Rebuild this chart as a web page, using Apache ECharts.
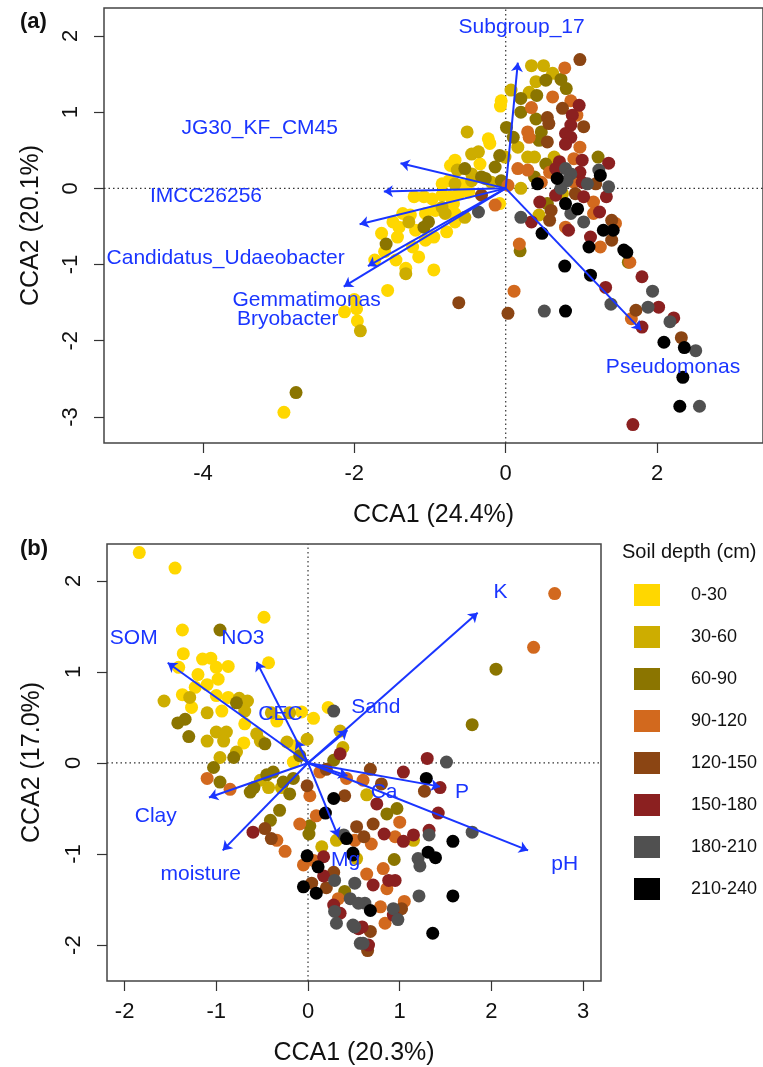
<!DOCTYPE html>
<html>
<head>
<meta charset="utf-8">
<script src="https://cdn.jsdelivr.net/npm/echarts@6/dist/echarts.min.js"></script>
<style>
  html, body { margin: 0; padding: 0; background: #fff; }
  #chart { width: 763px; height: 1067px; }
</style>
</head>
<body>
<div id="chart"></div>
<script>
// depth classes and their colours
var depthNames = ['0-30', '30-60', '60-90', '90-120', '120-150', '150-180', '180-210', '210-240'];
var depthColors = ['#FFD700', '#CDAD00', '#8B7500', '#D2691E', '#8B4513', '#8B2020', '#505050', '#000000'];

// panel (a) sample scores, one array per depth class
var a0_30 = [[-0.06,1.15],[-0.07,1.08],[-0.23,0.65],[-0.21,0.59],[-0.08,-0.20],[-0.34,0.32],[-0.73,0.30],[-0.67,0.37],[-0.75,0.10],[-0.84,0.06],[-0.58,0.04],[-1.21,-0.11],[-1.08,-0.11],[-0.97,-0.14],[-0.84,-0.09],[-0.73,-0.11],[-0.62,-0.07],[-0.49,-0.05],[-1.36,-0.33],[-1.26,-0.35],[-1.49,-0.44],[-1.41,-0.51],[-1.06,-0.33],[-1.19,-0.55],[-0.93,-0.29],[-0.67,-0.33],[-1.06,-0.68],[-1.23,-0.77],[-1.15,-0.90],[-1.43,-0.64],[-1.64,-0.59],[-1.60,-0.83],[-1.45,-0.94],[-1.73,-0.94],[-1.32,-1.05],[-0.95,-1.07],[-1.56,-1.34],[-0.95,-0.64],[-0.78,-0.57],[-0.67,-0.44],[-0.69,-0.20],[-2.00,-1.46],[-1.97,-1.58],[-2.13,-1.62],[-1.96,-1.74],[-2.93,-2.94]];
var a30_60 = [[0.34,1.61],[0.50,1.61],[0.62,1.51],[0.40,1.40],[0.07,1.29],[0.31,1.26],[0.16,0.54],[-0.01,0.41],[0.29,0.41],[0.38,0.41],[0.64,0.41],[0.20,0.00],[0.75,-0.07],[0.44,-0.35],[-0.19,0.08],[-0.51,0.74],[-0.45,0.45],[-0.36,0.48],[-0.64,0.24],[-0.45,0.19],[-0.67,0.06],[-0.45,0.10],[-1.28,-0.44],[-0.84,-0.25],[-0.80,-0.33],[-1.32,-1.12],[-0.54,-0.38],[-1.92,-1.87]];
var a60_90 = [[0.73,1.43],[0.53,1.42],[0.80,1.31],[0.20,1.18],[0.41,1.22],[0.20,1.00],[0.40,0.91],[0.01,0.80],[0.47,0.74],[0.10,0.67],[0.44,0.63],[-0.27,0.13],[-0.14,0.28],[-0.08,0.43],[0.53,0.32],[1.22,0.41],[0.38,0.15],[0.55,-0.20],[0.19,-0.82],[-0.06,0.10],[-0.54,0.26],[-0.32,0.15],[-1.02,-0.44],[-1.08,-0.51],[-1.58,-0.73],[-2.77,-2.68],[1.62,-0.97]];
var a90_120 = [[0.78,1.58],[0.62,1.20],[0.86,1.15],[0.94,0.96],[0.34,1.06],[0.29,0.74],[0.31,0.67],[0.98,0.54],[0.90,0.39],[0.16,0.26],[0.29,0.24],[0.58,0.21],[0.47,0.08],[0.90,0.08],[1.16,-0.18],[1.16,-0.33],[0.79,-0.51],[1.45,-0.46],[1.25,-0.77],[-0.14,-0.22],[0.18,-0.73],[0.03,0.04],[0.11,-1.35],[1.64,-0.97],[1.66,-1.71]];
var a120_150 = [[0.98,1.69],[0.75,1.05],[0.55,0.93],[1.03,0.81],[0.57,0.85],[0.55,0.61],[1.19,0.06],[0.92,-0.07],[0.60,-0.29],[1.40,-0.42],[0.58,-0.42],[1.40,-0.68],[-0.32,-0.09],[-0.62,-1.50],[0.03,-1.64],[1.72,-1.60],[2.32,-1.96]];
var a150_180 = [[0.97,1.09],[0.88,0.96],[0.86,0.83],[0.79,0.72],[0.86,0.67],[0.79,0.58],[0.71,0.35],[1.01,0.37],[1.36,0.33],[0.66,0.26],[0.98,0.21],[1.01,0.08],[0.66,-0.09],[1.03,-0.11],[1.33,-0.11],[0.45,-0.18],[1.24,-0.31],[0.34,-0.44],[0.83,-0.55],[1.12,-0.64],[1.80,-1.16],[1.32,-1.30],[2.02,-1.56],[2.22,-1.70],[1.80,-1.82],[1.68,-3.10]];
var a180_210 = [[0.79,0.26],[0.86,0.19],[0.81,0.10],[1.08,0.06],[1.36,0.02],[1.23,0.24],[0.73,0.00],[0.86,-0.33],[1.03,-0.44],[0.20,-0.38],[-0.36,-0.31],[0.51,-1.61],[1.39,-1.52],[1.94,-1.35],[1.88,-1.56],[2.17,-1.75],[2.51,-2.13],[2.56,-2.86]];
var a210_240 = [[0.68,0.13],[1.25,0.17],[0.42,0.06],[0.79,-0.20],[0.95,-0.27],[0.48,-0.59],[1.29,-0.55],[1.42,-0.55],[1.10,-0.77],[1.56,-0.81],[1.60,-0.84],[0.79,-1.61],[0.78,-1.02],[1.12,-1.14],[2.09,-2.02],[2.36,-2.09],[2.34,-2.48],[2.30,-2.86]];

// panel (b) sample scores
var b0_30 = [[-1.84,2.31],[-1.45,2.14],[-0.48,1.60],[-1.37,1.46],[-1.36,1.20],[-0.43,1.10],[-1.41,1.05],[-1.15,1.14],[-1.06,1.15],[-1.00,1.05],[-0.87,1.06],[-1.20,0.97],[-1.10,0.86],[-0.98,0.92],[-1.00,0.74],[-1.37,0.75],[-1.23,0.83],[-1.27,0.61],[-0.87,0.72],[-0.94,0.57],[-0.69,0.43],[-0.70,0.22],[-0.34,0.46],[-0.07,0.56],[0.06,0.49],[0.22,0.61],[-0.14,0.19],[-0.16,0.01]];
var b30_60 = [[-1.29,0.72],[-1.57,0.68],[-0.75,0.71],[-0.66,0.68],[-0.69,0.57],[-1.10,0.55],[-1.10,0.24],[-1.00,0.34],[-0.89,0.34],[-0.92,0.24],[-0.56,0.32],[-0.52,0.24],[-0.40,0.55],[-0.20,0.55],[-0.96,0.06],[-0.78,0.12],[-0.43,-0.27],[-0.52,-0.19],[-0.29,-0.27],[-0.23,0.23],[-0.01,0.26],[0.38,0.17],[0.35,0.35],[0.15,-0.92],[0.31,-0.85],[0.64,-0.35],[1.15,-0.85],[0.53,-1.05]];
var b60_90 = [[-0.96,1.46],[-0.78,0.66],[-1.34,0.48],[-1.42,0.44],[-1.30,0.29],[-0.47,0.21],[-0.81,0.06],[-1.03,-0.05],[-0.96,-0.21],[-0.63,-0.32],[-0.59,-0.27],[-0.38,-0.10],[-0.45,-0.13],[-0.16,-0.17],[-0.27,-0.21],[-0.20,-0.34],[-0.09,0.08],[0.28,0.03],[-0.41,-0.63],[-0.31,-0.52],[0.02,-0.69],[0.01,-0.78],[0.40,-1.41],[2.05,1.03],[1.79,0.42],[0.86,-0.56],[0.97,-0.50],[0.94,-1.06]];
var b90_120 = [[-1.10,-0.17],[-0.85,-0.29],[0.13,-0.10],[0.02,-0.36],[0.42,-0.17],[-0.34,-0.85],[-0.25,-0.97],[-0.09,-0.67],[0.09,-0.58],[-0.05,-1.12],[0.06,-1.07],[0.33,-1.49],[0.60,-0.19],[1.00,-0.65],[0.95,-0.81],[0.51,-0.85],[0.69,-0.89],[0.64,-1.22],[0.82,-1.16],[0.86,-1.38],[1.05,-1.52],[0.79,-1.58],[0.84,-1.76],[2.69,1.86],[2.46,1.27]];
var b120_150 = [[-0.01,-0.25],[0.20,-0.07],[0.40,-0.36],[-0.47,-0.72],[-0.40,-0.83],[0.04,-1.32],[0.20,-1.37],[0.28,-1.20],[1.27,-0.31],[0.68,-0.07],[0.80,-0.23],[0.71,-0.67],[0.53,-0.70],[0.61,-0.81],[1.02,-1.60],[0.68,-1.85],[0.65,-2.06]];
var b150_180 = [[0.35,0.10],[-0.60,-0.76],[0.17,-1.03],[0.17,-1.24],[0.28,-1.56],[0.35,-1.65],[0.55,-1.82],[1.30,0.05],[1.04,-0.10],[1.44,-0.27],[0.75,-0.45],[1.42,-0.55],[0.83,-0.78],[1.04,-0.86],[1.15,-0.79],[1.32,-0.74],[0.95,-1.29],[0.88,-1.29],[0.71,-1.34],[0.93,-1.67],[0.59,-1.80],[0.66,-2.00]];
var b180_210 = [[0.28,0.57],[0.29,-1.29],[0.39,-0.79],[0.31,-1.76],[0.29,-1.63],[0.46,-1.49],[0.51,-1.80],[0.57,-1.98],[1.51,0.01],[1.32,-0.79],[1.79,-0.76],[1.20,-1.05],[1.22,-1.13],[0.51,-1.32],[1.21,-1.46],[0.62,-1.54],[0.55,-1.54],[0.93,-1.60],[0.98,-1.72],[0.49,-1.78],[0.60,-1.98]];
var b210_240 = [[0.28,-0.39],[0.19,-0.55],[-0.01,-1.02],[0.11,-1.14],[-0.05,-1.36],[0.09,-1.43],[0.42,-0.83],[0.49,-1.01],[1.29,-0.17],[1.58,-0.86],[1.31,-0.98],[1.39,-1.04],[0.49,-0.99],[1.58,-1.46],[0.68,-1.62],[1.36,-1.87]];

// biplot arrows: names, tips, label positions
var arrowNamesA = ['Subgroup_17', 'JG30_KF_CM45', 'IMCC26256', 'Candidatus_Udaeobacter', 'Gemmatimonas', 'Bryobacter', 'Pseudomonas'];
var arrowTipsA = [[0.16,1.65],[-1.39,0.33],[-1.61,-0.04],[-1.93,-0.47],[-1.82,-1.02],[-2.14,-1.29],[1.79,-1.86]];
var arrowLabelsA = [[0.21,2.11],[-3.25,0.79],[-3.96,-0.10],[-3.70,-0.92],[-2.63,-1.47],[-2.88,-1.72],[2.21,-2.35]];

var arrowNamesB = ['K', 'Sand', 'CEC', 'NO3', 'SOM', 'Clay', 'moisture', 'Mg', 'Ca', 'P', 'pH'];
var arrowTipsB = [[1.85,1.65],[0.43,0.36],[-0.13,0.25],[-0.56,1.11],[-1.53,1.10],[-1.08,-0.38],[-0.93,-0.96],[0.33,-0.81],[0.43,-0.14],[1.44,-0.26],[2.40,-0.96]];
var arrowLabelsB = [[2.10,1.87],[0.74,0.61],[-0.30,0.54],[-0.71,1.37],[-1.90,1.37],[-1.66,-0.58],[-1.17,-1.22],[0.41,-1.07],[0.83,-0.32],[1.68,-0.32],[2.80,-1.11]];

// tick labels
var xTicksA = [-4, -2, 0, 2];
var yTicksA = [-3, -2, -1, 0, 1, 2];
var xTicksB = [-2, -1, 0, 1, 2, 3];
var yTicksB = [-2, -1, 0, 1, 2];

var pointsA = [a0_30, a30_60, a60_90, a90_120, a120_150, a150_180, a180_210, a210_240];
var pointsB = [b0_30, b30_60, b60_90, b90_120, b120_150, b150_180, b180_210, b210_240];

var FONT = 'Liberation Sans, Arial, sans-serif';
var BLUE = '#1a35ff';

function valueAxis(idx, min, max, ticks, name, isY, gap) {
  return {
    type: 'value', gridIndex: idx, min: min, max: max,
    axisLine: { show: false, onZero: false },
    splitLine: { show: false },
    axisTick: { show: true, length: 10, customValues: ticks, lineStyle: { color: '#333', width: 1.2 } },
    axisLabel: { customValues: ticks, fontSize: 22, color: '#111', margin: isY ? 22 : 20, rotate: isY ? 90 : 0 },
    name: name, nameLocation: 'middle', nameGap: gap, nameRotate: isY ? 90 : 0,
    nameTextStyle: { fontSize: 25, color: '#111' }
  }
}

var series = []
function addPanel(idx, pts, names, tips, labels, xr, yr) {
  // dotted zero lines
  series.push({
    type: 'line', xAxisIndex: idx, yAxisIndex: idx, z: 1, silent: true, symbol: 'none',
    data: [[0, yr[0]], [0, yr[1]]],
    lineStyle: { color: '#333', width: 1.2, type: [1.5, 3] }
  })
  series.push({
    type: 'line', xAxisIndex: idx, yAxisIndex: idx, z: 1, silent: true, symbol: 'none',
    data: [[xr[0], 0], [xr[1], 0]],
    lineStyle: { color: '#333', width: 1.2, type: [1.5, 3] }
  })
  for (var i = 0; i < pts.length; i++) {
    series.push({
      name: depthNames[i], type: 'scatter', xAxisIndex: idx, yAxisIndex: idx,
      symbolSize: 13, z: 2, data: pts[i],
      itemStyle: { color: depthColors[i], opacity: 1 }
    })
  }
  series.push({
    type: 'lines', coordinateSystem: 'cartesian2d', xAxisIndex: idx, yAxisIndex: idx,
    z: 5, silent: true, symbol: ['none', 'arrow'], symbolSize: 9,
    lineStyle: { color: BLUE, width: 2, opacity: 1 },
    data: tips.map(function (t) { return { coords: [[0, 0], t] } })
  })
  series.push({
    type: 'scatter', xAxisIndex: idx, yAxisIndex: idx, z: 6, silent: true,
    symbolSize: 1, itemStyle: { color: 'rgba(0,0,0,0)' },
    label: { show: true, position: 'inside', formatter: '{b}', color: BLUE, fontSize: 21, textBorderWidth: 0, opacity: 1 },
    data: names.map(function (n, k) { return { name: n, value: labels[k] } })
  })
}

var xrA = [-5.307, 3.399], yrA = [-3.342, 2.367];
var xrB = [-2.192, 3.195], yrB = [-2.394, 2.404];
addPanel(0, pointsA, arrowNamesA, arrowTipsA, arrowLabelsA, xrA, yrA);
addPanel(1, pointsB, arrowNamesB, arrowTipsB, arrowLabelsB, xrB, yrB);

var chart = echarts.init(document.getElementById('chart'), null, { renderer: 'canvas' });
chart.setOption({
  backgroundColor: '#fff',
  animation: false,
  textStyle: { fontFamily: FONT },
  grid: [
    { left: 104, top: 8, width: 666, height: 435, show: true, borderColor: '#444', borderWidth: 1.5 },
    { left: 107, top: 544, width: 494, height: 439, show: true, borderColor: '#444', borderWidth: 1.5 }
  ],
  xAxis: [
    valueAxis(0, xrA[0], xrA[1], xTicksA, 'CCA1 (24.4%)', false, 60),
    valueAxis(1, xrB[0], xrB[1], xTicksB, 'CCA1 (20.3%)', false, 60)
  ],
  yAxis: [
    valueAxis(0, yrA[0], yrA[1], yTicksA, 'CCA2 (20.1%)', true, 60),
    valueAxis(1, yrB[0], yrB[1], yTicksB, 'CCA2 (17.0%)', true, 62)
  ],
  legend: {
    data: depthNames, orient: 'vertical', left: 629, top: 579,
    icon: 'rect', itemWidth: 26, itemHeight: 22, itemGap: 20, selectedMode: false,
    textStyle: { fontSize: 18, color: '#111', padding: [0, 0, 0, 26] }
  },
  graphic: [
    { type: 'text', left: 20, top: 11, style: { text: '(a)', font: 'bold 22px ' + FONT, fill: '#111' } },
    { type: 'text', left: 20, top: 538, style: { text: '(b)', font: 'bold 22px ' + FONT, fill: '#111' } },
    { type: 'text', left: 622, top: 542, style: { text: 'Soil depth (cm)', font: '20px ' + FONT, fill: '#111' } }
  ],
  series: series
});
</script>
</body>
</html>
